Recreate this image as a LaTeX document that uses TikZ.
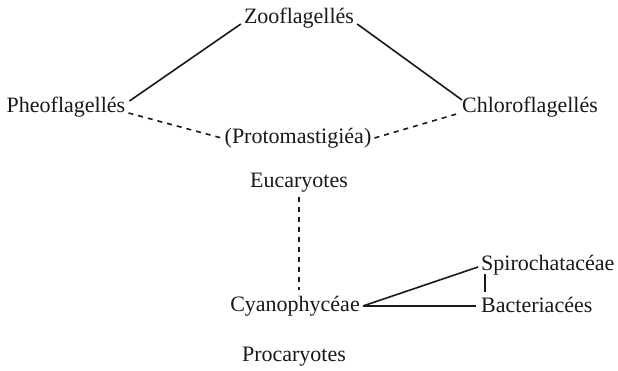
\documentclass[tikz,border=0pt]{standalone}
\usepackage{fontspec}
\setmainfont{Liberation Serif}
\begin{document}
\begin{tikzpicture}[x=1pt,y=-1pt,
  taxon/.style={inner sep=0pt,text=black!90,font=\fontsize{22}{25}\selectfont},
  link/.style={line width=1.6pt,draw=black!90},
  dlink/.style={link,dash pattern=on 5pt off 5pt}]
\useasboundingbox[fill=white] (0,0) rectangle (618,371);
% taxa
\node[taxon,anchor=base] (zoo) at (299,24) {Zooflagellés};
\node[taxon,anchor=base] (pheo) at (66,113) {Pheoflagellés};
\node[taxon,anchor=base] (chloro) at (530,113) {Chloroflagellés};
\node[taxon,anchor=base] (proto) at (298,144) {(Protomastigiéa)};
\node[taxon,anchor=base] (euc) at (299,188) {Eucaryotes};
\node[taxon,anchor=base] (cyano) at (295,311) {Cyanophycéae};
\node[taxon,anchor=base west] (spiro) at (481,271) {Spirochatacéae};
\node[taxon,anchor=base west] (bact) at (481,312) {Bacteriacées};
\node[taxon,anchor=base] (proc) at (294,361) {Procaryotes};
% solid links among the flagellates
\draw[link] ([shift={(-3,0)}]zoo.base west) -- ([shift={(4,-12)}]pheo.base east);
\draw[link] ([shift={(3,0)}]zoo.base east) -- ([shift={(0,-13)}]chloro.base west);
% dashed links to Protomastigiéa
\draw[dlink] ([shift={(3,0)}]pheo.base east) -- ([shift={(-3,-6)}]proto.base west);
\draw[dlink] ([shift={(3,-6)}]proto.base east) -- ([shift={(-2,0)}]chloro.base west);
% Eucaryotes down to Cyanophycéae
\draw[dlink] ([shift={(0,9)}]euc.base) -- ([shift={(0,-21)}]euc.base |- cyano.base);
% bacteria branch
\draw[link] ([shift={(3,-5)}]cyano.base east) -- ([shift={(-3,-4)}]spiro.base west);
\draw[link] ([shift={(3,-5)}]cyano.base east) -- ([shift={(-5,-6)}]bact.base west);
\draw[link] ([shift={(4,3)}]spiro.base west) -- ([shift={(4,-20)}]bact.base west);
\end{tikzpicture}
\end{document}
